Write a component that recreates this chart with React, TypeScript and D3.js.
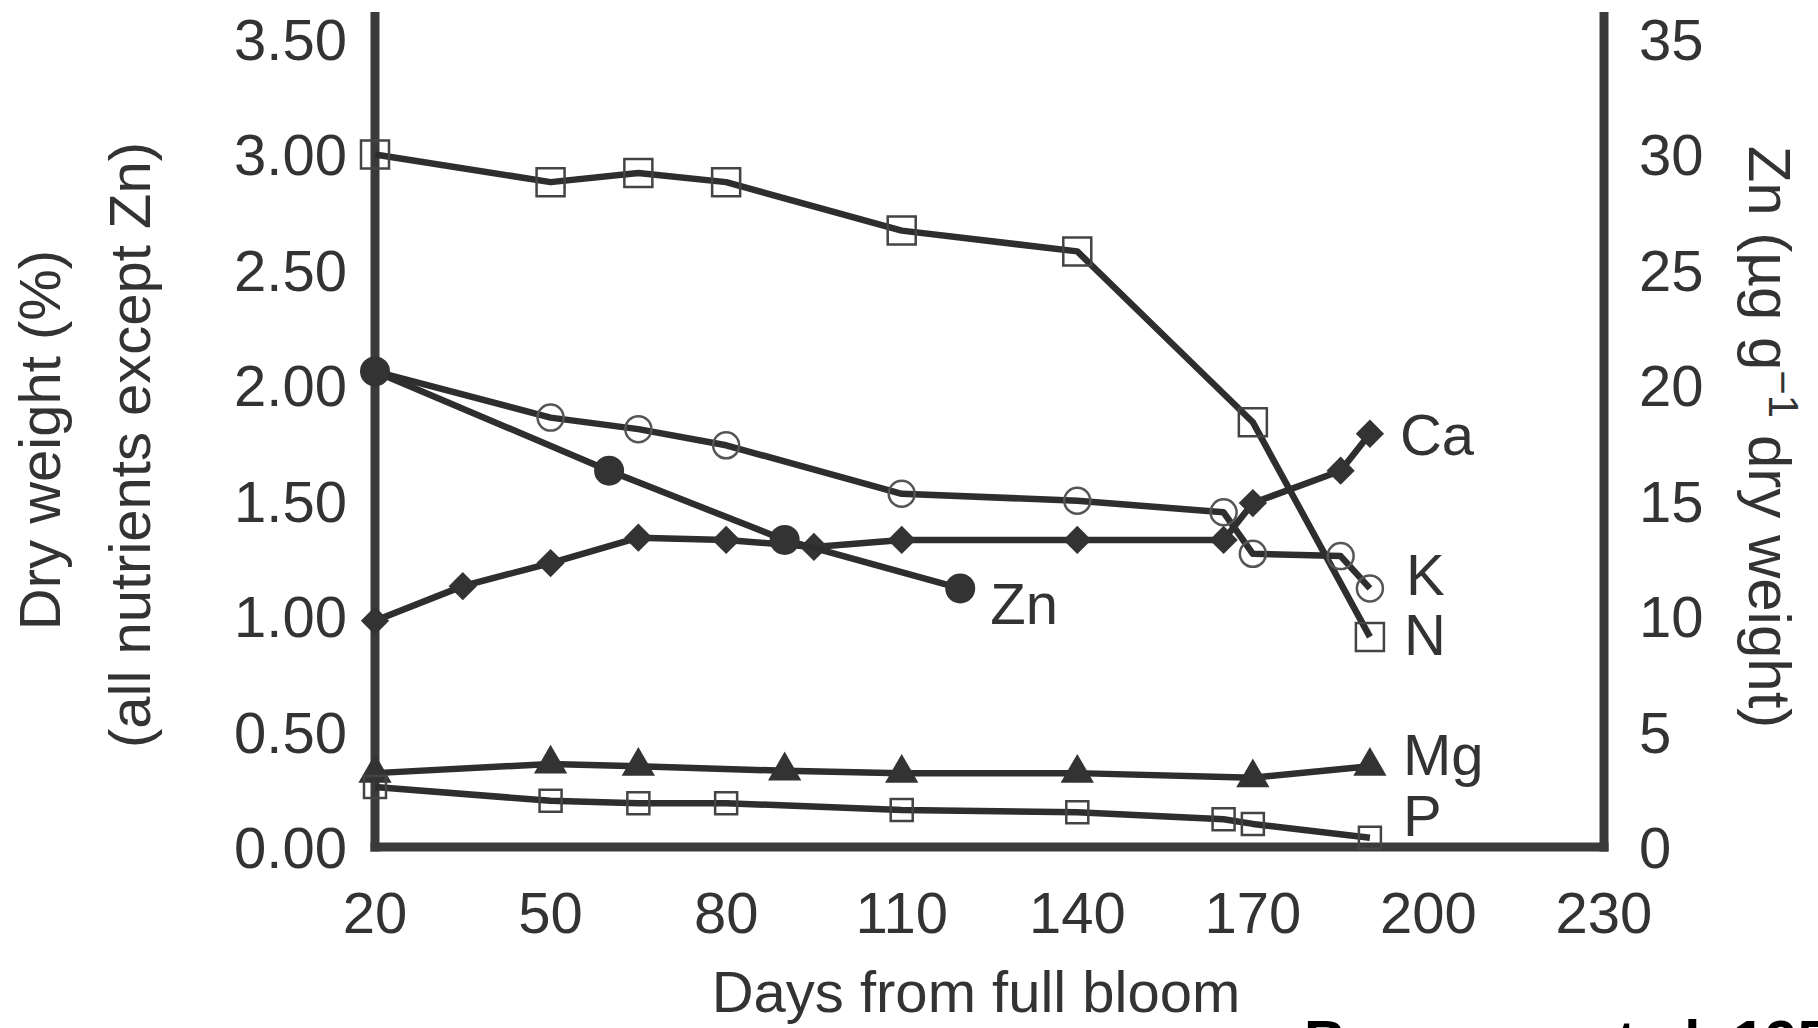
import React, { useRef, useEffect } from "react";
import * as d3 from "d3";

// days from full bloom / values
const nDays = [20, 50, 65, 80, 110, 140, 170, 190];
const nValues = [3.0, 2.88, 2.92, 2.88, 2.67, 2.58, 1.84, 0.91];

const kDays = [20, 50, 65, 80, 110, 140, 165, 170, 185, 190];
const kValues = [2.06, 1.86, 1.81, 1.74, 1.53, 1.5, 1.45, 1.27, 1.26, 1.12];

const caDays = [20, 35, 50, 65, 80, 95, 110, 140, 165, 170, 185, 190];
const caValues = [0.98, 1.13, 1.23, 1.34, 1.33, 1.3, 1.33, 1.33, 1.33, 1.49, 1.63, 1.79];

const znDays = [20, 60, 90, 120];
const znValues = [20.6, 16.3, 13.3, 11.2]; // right axis, ug/g

const mgDays = [20, 50, 65, 90, 110, 140, 170, 190];
const mgValues = [0.32, 0.36, 0.35, 0.33, 0.32, 0.32, 0.3, 0.35];

const pDays = [20, 50, 65, 80, 110, 140, 165, 170, 190];
const pValues = [0.26, 0.2, 0.19, 0.19, 0.16, 0.15, 0.12, 0.1, 0.04];

const xTicks = [20, 50, 80, 110, 140, 170, 200, 230];
const leftTicks = [0, 0.5, 1, 1.5, 2, 2.5, 3, 3.5];
const rightTicks = [0, 5, 10, 15, 20, 25, 30, 35];

const citation = "Baumann et al. 1957";

const width = 1818;
const height = 1028;
const ink = "#333";
const font = "'Liberation Sans', Arial, sans-serif";

const Chart = () => {
  const svgRef = useRef(null);

  useEffect(() => {
    const svg = d3.select(svgRef.current);
    svg.selectAll("*").remove();

    const x = d3.scaleLinear([20, 230], [375, 1604]);
    const y = d3.scaleLinear([0, 3.5], [847, 39]);
    const yZn = d3.scaleLinear([0, 35], [847, 39]);

    // axes frame
    const axisG = svg.append("g").attr("stroke", "#3a3a3a").attr("stroke-width", 9);
    axisG.append("line").attr("x1", x(20)).attr("x2", x(20)).attr("y1", 12).attr("y2", y(0) + 4.5);
    axisG.append("line").attr("x1", x(230)).attr("x2", x(230)).attr("y1", 12).attr("y2", y(0) + 4.5);
    axisG.append("line").attr("x1", x(20) - 4.5).attr("x2", x(230) + 4.5).attr("y1", y(0)).attr("y2", y(0));

    const txt = svg.append("g").attr("font-family", font).attr("font-size", 58).attr("fill", ink);

    txt.selectAll(".lt").data(leftTicks).join("text")
      .attr("x", 347).attr("y", (d) => y(d) + 21)
      .attr("text-anchor", "end").text((d) => d3.format(".2f")(d));

    txt.selectAll(".rt").data(rightTicks).join("text")
      .attr("x", 1639).attr("y", (d) => yZn(d) + 21)
      .text((d) => d);

    txt.selectAll(".xt").data(xTicks).join("text")
      .attr("x", (d) => x(d)).attr("y", 933)
      .attr("text-anchor", "middle").text((d) => d);

    txt.append("text").attr("x", 976).attr("y", 1012)
      .attr("text-anchor", "middle").text("Days from full bloom");

    txt.append("text").attr("transform", "translate(60,440) rotate(-90)")
      .attr("text-anchor", "middle").text("Dry weight (%)");
    txt.append("text").attr("transform", "translate(150,445) rotate(-90)")
      .attr("text-anchor", "middle").text("(all nutrients except Zn)");

    const rt = txt.append("text").attr("transform", "translate(1749,437) rotate(90)")
      .attr("text-anchor", "middle").attr("font-size", 60);
    rt.append("tspan").text("Zn (µg g");
    rt.append("tspan").attr("font-size", 42).attr("dy", -20).text("\u22121");
    rt.append("tspan").attr("dy", 20).text(" dry weight)");

    const series = [
      { name: "N", days: nDays, values: nValues, scale: y, marker: "openSquare", dx: 34, dy: -3 },
      { name: "K", days: kDays, values: kValues, scale: y, marker: "openCircle", dx: 36, dy: -14 },
      { name: "Ca", days: caDays, values: caValues, scale: y, marker: "diamond", dx: 30, dy: 0 },
      { name: "Zn", days: znDays, values: znValues, scale: yZn, marker: "dot", dx: 30, dy: 15 },
      { name: "Mg", days: mgDays, values: mgValues, scale: y, marker: "triangle", dx: 33, dy: -12 },
      { name: "P", days: pDays, values: pValues, scale: y, marker: "smallSquare", dx: 33, dy: -23 },
    ];

    const line = d3.line();
    const plot = svg.append("g");

    series.forEach((s) => {
      const pts = s.days.map((d, i) => [x(d), s.scale(s.values[i])]);
      plot.append("path").attr("d", line(pts)).attr("fill", "none")
        .attr("stroke", "#2e2e2e").attr("stroke-width", 6.5).attr("stroke-linejoin", "round");

      const g = plot.append("g");
      pts.forEach(([px, py]) => {
        const m = g.append("path").attr("transform", `translate(${px},${py})`);
        if (s.marker === "openSquare") {
          m.attr("d", d3.symbol(d3.symbolSquare, 28 * 28)()).attr("fill", "none")
            .attr("stroke", "#444").attr("stroke-width", 2.5);
        } else if (s.marker === "openCircle") {
          m.attr("d", d3.symbol(d3.symbolCircle, Math.PI * 13 * 13)()).attr("fill", "none")
            .attr("stroke", "#555").attr("stroke-width", 2.5);
        } else if (s.marker === "diamond") {
          m.attr("transform", `translate(${px},${py}) rotate(45)`)
            .attr("d", d3.symbol(d3.symbolSquare, 20 * 20)()).attr("fill", "#333");
        } else if (s.marker === "dot") {
          m.attr("d", d3.symbol(d3.symbolCircle, Math.PI * 15 * 15)()).attr("fill", "#333");
        } else if (s.marker === "triangle") {
          m.attr("d", d3.symbol(d3.symbolTriangle, 480)()).attr("fill", "#333");
        } else {
          m.attr("d", d3.symbol(d3.symbolSquare, 22 * 22)()).attr("fill", "none")
            .attr("stroke", "#444").attr("stroke-width", 2.5);
        }
      });

      const last = pts[pts.length - 1];
      txt.append("text").attr("x", last[0] + s.dx).attr("y", last[1] + s.dy + 21).text(s.name);
    });

    svg.append("text").attr("x", 1304).attr("y", 1061)
      .attr("font-family", font).attr("font-size", 58).attr("font-weight", "bold")
      .attr("fill", "#000").text(citation);
  }, []);

  return (
    <svg
      ref={svgRef}
      width={width}
      height={height}
      style={{ position: "absolute", left: 0, top: 0, background: "white", display: "block" }}
    />
  );
};

export default function App() {
  return <Chart />;
}
